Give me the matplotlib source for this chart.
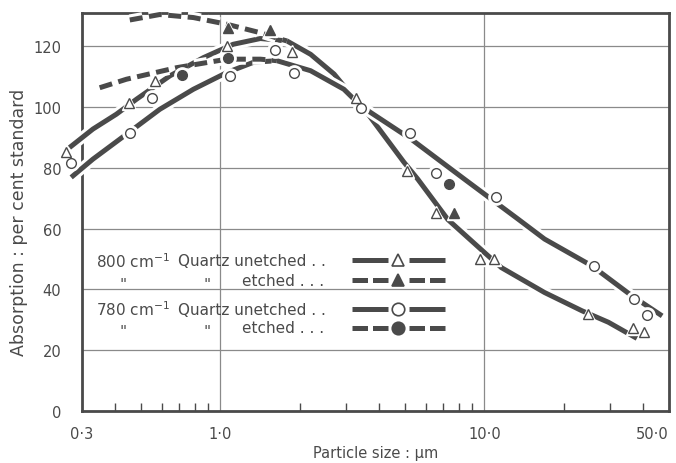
import matplotlib
matplotlib.use("Agg")
import matplotlib.pyplot as plt
import matplotlib.patheffects as pe
from matplotlib.lines import Line2D
from matplotlib.ticker import FixedLocator, NullFormatter

plt.rcParams["font.family"] = ["DejaVu Sans"]
plt.rcParams["mathtext.fontset"] = "dejavusans"

INK = "#4a4a4a"
GRID = "#8a8a8a"

# traced curves (particle size in um, absorption in % of standard)
c800_un_x = [0.269, 0.330, 0.405, 0.482, 0.645, 0.864, 1.12, 1.42, 1.79, 2.20, 2.70, 3.12,
             3.61, 4.96, 5.60, 7.28, 10.0, 11.6, 16.9, 23.4, 29.5, 37.8]
c800_un_y = [86.7, 92.8, 97.7, 102.6, 110.3, 116.3, 120.7, 122.6, 121.8, 117.4, 110.9, 104.3,
             98.0, 81.9, 76.3, 63.0, 52.2, 47.2, 39.0, 33.0, 29.2, 23.9]

c780_un_x = [0.273, 0.330, 0.442, 0.591, 0.792, 1.06, 1.34, 1.64, 2.20, 2.94, 3.41,
             3.72, 5.28, 8.41, 13.4, 16.9, 25.5, 36.2, 47.1]
c780_un_y = [76.9, 82.9, 91.1, 99.3, 105.9, 111.4, 114.8, 115.3, 112.0, 105.9, 100.4,
             98.2, 89.5, 76.3, 63.2, 56.6, 47.8, 37.9, 31.3]

c800_et_x = [0.455, 0.591, 0.792, 1.06, 1.42, 1.69, 1.79]
c800_et_y = [128.7, 130.5, 129.5, 127.3, 124.5, 122.4, 121.8]

c780_et_x = [0.350, 0.442, 0.684, 1.06, 1.42, 1.64]
c780_et_y = [106.4, 109.2, 113.0, 115.8, 115.8, 115.3]

# measured points
p800_un_x = [0.260, 0.451, 0.566, 1.06, 1.87, 3.26, 5.09, 6.57, 9.6, 10.85, 24.6, 36.6, 40.3]
p800_un_y = [85.1, 101.5, 108.7, 120.2, 118.3, 103.0, 79.0, 65.3, 50.0, 50.0, 31.9, 27.2, 25.9]

p780_un_x = [0.273, 0.457, 0.55, 1.09, 1.62, 1.90, 3.41, 5.25, 6.57, 11.1, 25.9, 36.7, 41.3]
p780_un_y = [81.5, 91.4, 102.9, 110.3, 118.8, 111.2, 99.6, 91.6, 78.5, 70.3, 47.6, 36.8, 31.6]

p800_et_x = [1.075, 1.54, 7.71]
p800_et_y = [125.9, 125.4, 65.3]

p780_et_x = [0.715, 1.075, 7.38]
p780_et_y = [110.5, 116.3, 74.7]

x_ticks = [0.3, 1.0, 10.0, 50.0]
x_tick_labels = ["0·3", "1·0", "10·0", "50·0"]
y_ticks = [0, 20, 40, 60, 80, 100, 120]

fig = plt.figure(figsize=(6.76, 4.64), dpi=100)
ax = fig.add_axes([82 / 676, 52 / 464, 587 / 676, 398 / 464])

halo = [pe.Stroke(linewidth=8, foreground="white"), pe.Normal()]
LW = 3.6
DASH = (2.6, 1.3)

ax.plot(c800_un_x, c800_un_y, color=INK, lw=LW, solid_capstyle="butt", clip_on=False,
        path_effects=halo, zorder=3)
ax.plot(c780_un_x, c780_un_y, color=INK, lw=LW, solid_capstyle="butt", clip_on=False,
        path_effects=halo, zorder=3)
ax.plot(c800_et_x, c800_et_y, color=INK, lw=LW, dashes=DASH, dash_capstyle="butt",
        clip_on=False, path_effects=halo, zorder=3)
ax.plot(c780_et_x, c780_et_y, color=INK, lw=LW, dashes=DASH, dash_capstyle="butt",
        clip_on=False, path_effects=halo, zorder=3)


def marks(xs, ys, marker, filled, size):
    ax.plot(xs, ys, ls="none", marker=marker, ms=size + 4, mfc="white", mec="white",
            clip_on=False, zorder=4)
    ax.plot(xs, ys, ls="none", marker=marker, ms=size, mfc=INK if filled else "white",
            mec=INK, mew=1.0, clip_on=False, zorder=5)


marks(p800_un_x, p800_un_y, "^", False, 6.5)
marks(p780_un_x, p780_un_y, "o", False, 7)
marks(p800_et_x, p800_et_y, "^", True, 6.5)
marks(p780_et_x, p780_et_y, "o", True, 7)

ax.set_xscale("log")
ax.set_xlim(0.3, 50)
ax.set_ylim(0, 131)

ax.xaxis.set_major_locator(FixedLocator(x_ticks))
ax.set_xticklabels(x_tick_labels)
minor = [0.4, 0.5, 0.6, 0.7, 0.8, 0.9, 2, 3, 4, 5, 6, 7, 8, 9, 20, 30, 40]
ax.xaxis.set_minor_locator(FixedLocator(minor))
ax.xaxis.set_minor_formatter(NullFormatter())
ax.set_yticks(y_ticks)

ax.tick_params(axis="x", which="major", length=0, pad=11, labelsize=10.5, labelcolor=INK)
ax.tick_params(axis="x", which="minor", direction="in", length=6, width=1, color=INK)
ax.tick_params(axis="y", which="major", length=0, pad=15, labelsize=10.5, labelcolor=INK)
ax.get_xticklabels()[-1].set_horizontalalignment("right")

ax.grid(True, which="major", axis="both", color=GRID, lw=0.9, zorder=1)
ax.set_axisbelow(True)
for s in ax.spines.values():
    s.set_color(INK)
    s.set_linewidth(2.0)

ax.set_xlabel("Particle size : µm", fontsize=10.5, color=INK, labelpad=3)
ax.set_ylabel("Absorption : per cent standard", fontsize=12.5, color=INK)
ax.yaxis.set_label_coords(-0.092, 0.477)

# key drawn as text block in the lower left
rows = [0.379, 0.329, 0.256, 0.209]
fs = 11
tk = dict(transform=ax.transAxes, fontsize=fs, color=INK, va="center", zorder=6)
ax.text(0.023, rows[0], r"800 cm$^{-1}$", ha="left", **tk)
ax.text(0.023, rows[2], r"780 cm$^{-1}$", ha="left", **tk)
for r in (rows[1], rows[3]):
    ax.text(0.07, r - 0.01, '"', ha="center", **tk)
    ax.text(0.2125, r - 0.01, '"', ha="center", **tk)
    ax.text(0.272, r, "etched . . .", ha="left", **tk)
for r in (rows[0], rows[2]):
    ax.text(0.1635, r, "Quartz unetched . .", ha="left", **tk)

key_styles = [("^", False, None), ("^", True, (3.1, 1.0)), ("o", False, None), ("o", True, (3.1, 1.0))]
for r, (m, filled, dash) in zip(rows, key_styles):
    for x0, x1 in ((0.46, 0.521), (0.557, 0.618)):
        ln = Line2D([x0, x1], [r, r], transform=ax.transAxes, color=INK, lw=LW,
                    solid_capstyle="butt", dash_capstyle="butt", clip_on=False, zorder=6)
        if dash:
            ln.set_dashes(dash)
        ax.add_line(ln)
    ax.add_line(Line2D([0.539], [r], transform=ax.transAxes, ls="none", marker=m,
                       ms=9, mfc=INK if filled else "white",
                       mec=INK, mew=1.2, zorder=6))

fig.savefig("out.png", dpi=100, facecolor="white")
